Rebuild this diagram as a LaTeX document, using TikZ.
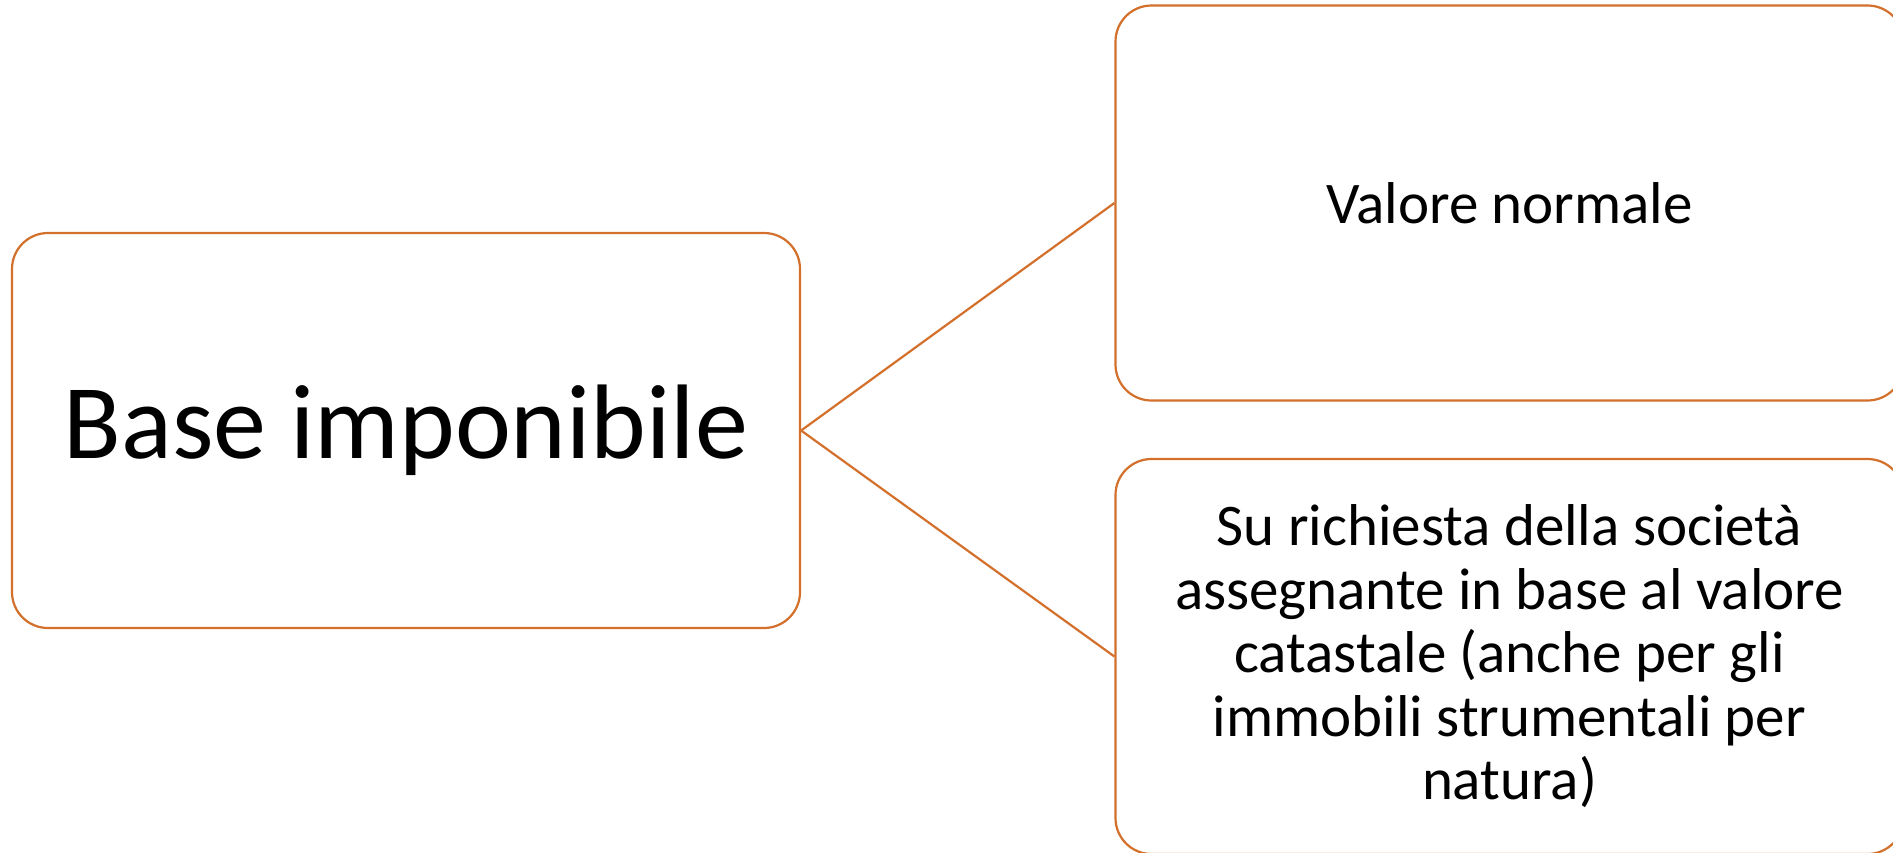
\documentclass[tikz,border=0pt]{standalone}
\usepackage{fontspec}
\setmainfont{Carlito}
\definecolor{boxorange}{HTML}{D3702C}
\begin{document}
\begin{tikzpicture}[x=1pt,y=-1pt,
  boxnode/.style={draw=boxorange,line width=2.2pt,rounded corners=36pt,
    minimum width=788pt,minimum height=395pt,inner sep=0pt,fill=white,
    align=center,text=black},
  conn/.style={draw=boxorange,line width=2.2pt}]
\useasboundingbox (0,0) rectangle (1893,852);
\clip (0,0) rectangle (1893,852);
\fill[white] (0,0) rectangle (1893,852);
\node[boxnode,font=\fontsize{106}{127}\selectfont] (base) at (406,430.5) {Base imponibile};
\node[boxnode,font=\fontsize{59}{64}\selectfont] (valore) at (1509.5,203) {Valore normale};
\node[boxnode,font=\fontsize{59}{63.5}\selectfont] (richiesta) at (1509.5,656.5)
  {Su richiesta della società\\assegnante in base al valore\\catastale (anche per gli\\immobili strumentali per\\natura)};
\draw[conn] (base.east) -- (valore.west);
\draw[conn] (base.east) -- (richiesta.west);
\end{tikzpicture}
\end{document}
